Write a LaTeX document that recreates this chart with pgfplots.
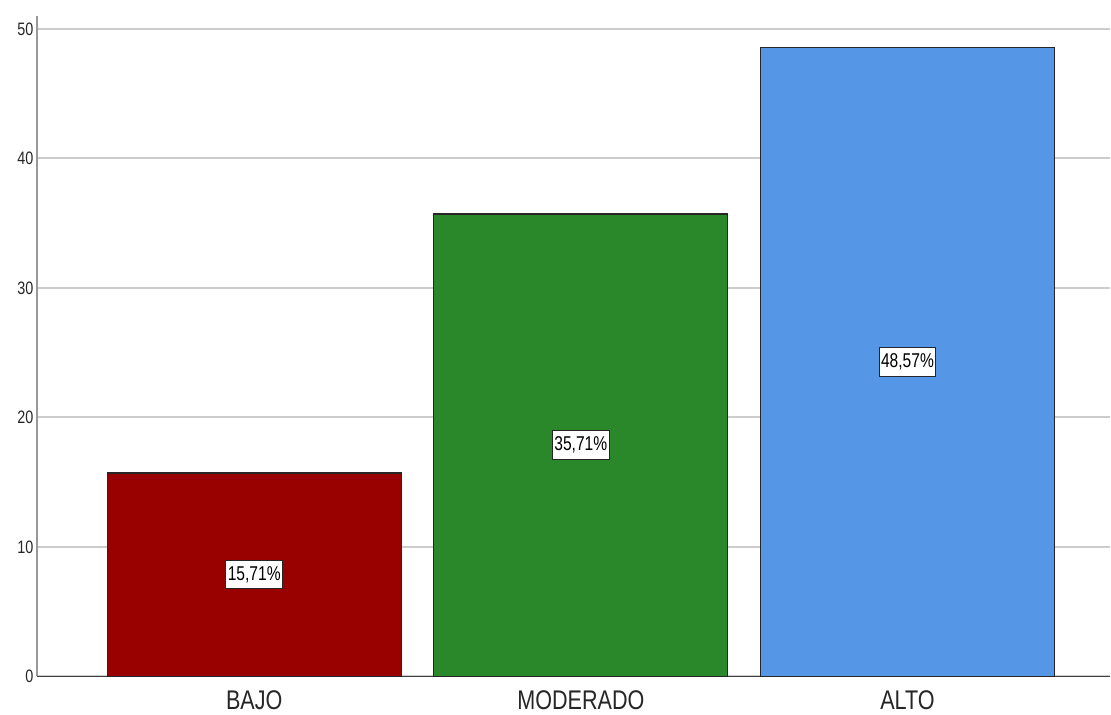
\documentclass[border=0pt]{standalone}
\usepackage{fontspec}
\setmainfont{Liberation Sans}
\newfontfamily\narrowfont[FakeStretch=0.8]{Liberation Sans}
\newfontfamily\labelfont[FakeStretch=0.78]{Liberation Sans}
\usepackage{pgfplots}
\pgfplotsset{compat=1.18}

\definecolor{bajo}{RGB}{153,0,0}
\definecolor{moderado}{RGB}{42,136,42}
\definecolor{alto}{RGB}{85,150,230}

\begin{document}
\begin{tikzpicture}
  \begin{axis}[
      scale only axis,
      width=1074pt, height=661pt,
      xmin=-0.665, xmax=2.62,
      ymin=0, ymax=51,
      ytick={0,10,...,50},
      xtick={0,1,2},
      xticklabels={BAJO,MODERADO,ALTO},
      axis x line*=bottom,
      axis y line*=left,
      x axis line style={black!75, line width=1.2pt, -},
      y axis line style={black!40, line width=2pt, -},
      tick style={draw=none},
      ymajorgrids=true,
      grid style={black!20, line width=2pt},
      /pgf/number format/assume math mode=true,
      yticklabel style={font=\narrowfont\fontsize{18}{20}\selectfont, text=black!85},
      xticklabel style={font=\narrowfont\fontsize{27}{30}\selectfont, text=black!85, yshift=-6pt},
      ybar, bar shift=0pt, bar width=0.9,
      visualization depends on={y \as \rawy},
      nodes near coords={\pgfmathprintnumber[fixed,precision=2,fixed zerofill,use comma]{\pgfplotspointmeta}\%},
      every node near coord/.append style={
        font=\labelfont\fontsize{20}{22}\selectfont, text=black,
        fill=white, draw=black!85, line width=1pt,
        inner xsep=2pt, inner ysep=6pt, anchor=center,
        shift={(axis direction cs:0,-\rawy/2)}},
    ]
    \addplot[draw=black!85, line width=1.2pt, fill=bajo] coordinates {(0,15.71)};
    \addplot[draw=black!85, line width=1.2pt, fill=moderado] coordinates {(1,35.71)};
    \addplot[draw=black!85, line width=1.2pt, fill=alto] coordinates {(2,48.57)};
  \end{axis}
  \path ([xshift=-37pt,yshift=-38pt]current axis.south west);
  \path ([yshift=16pt]current axis.north east);
\end{tikzpicture}
\end{document}
